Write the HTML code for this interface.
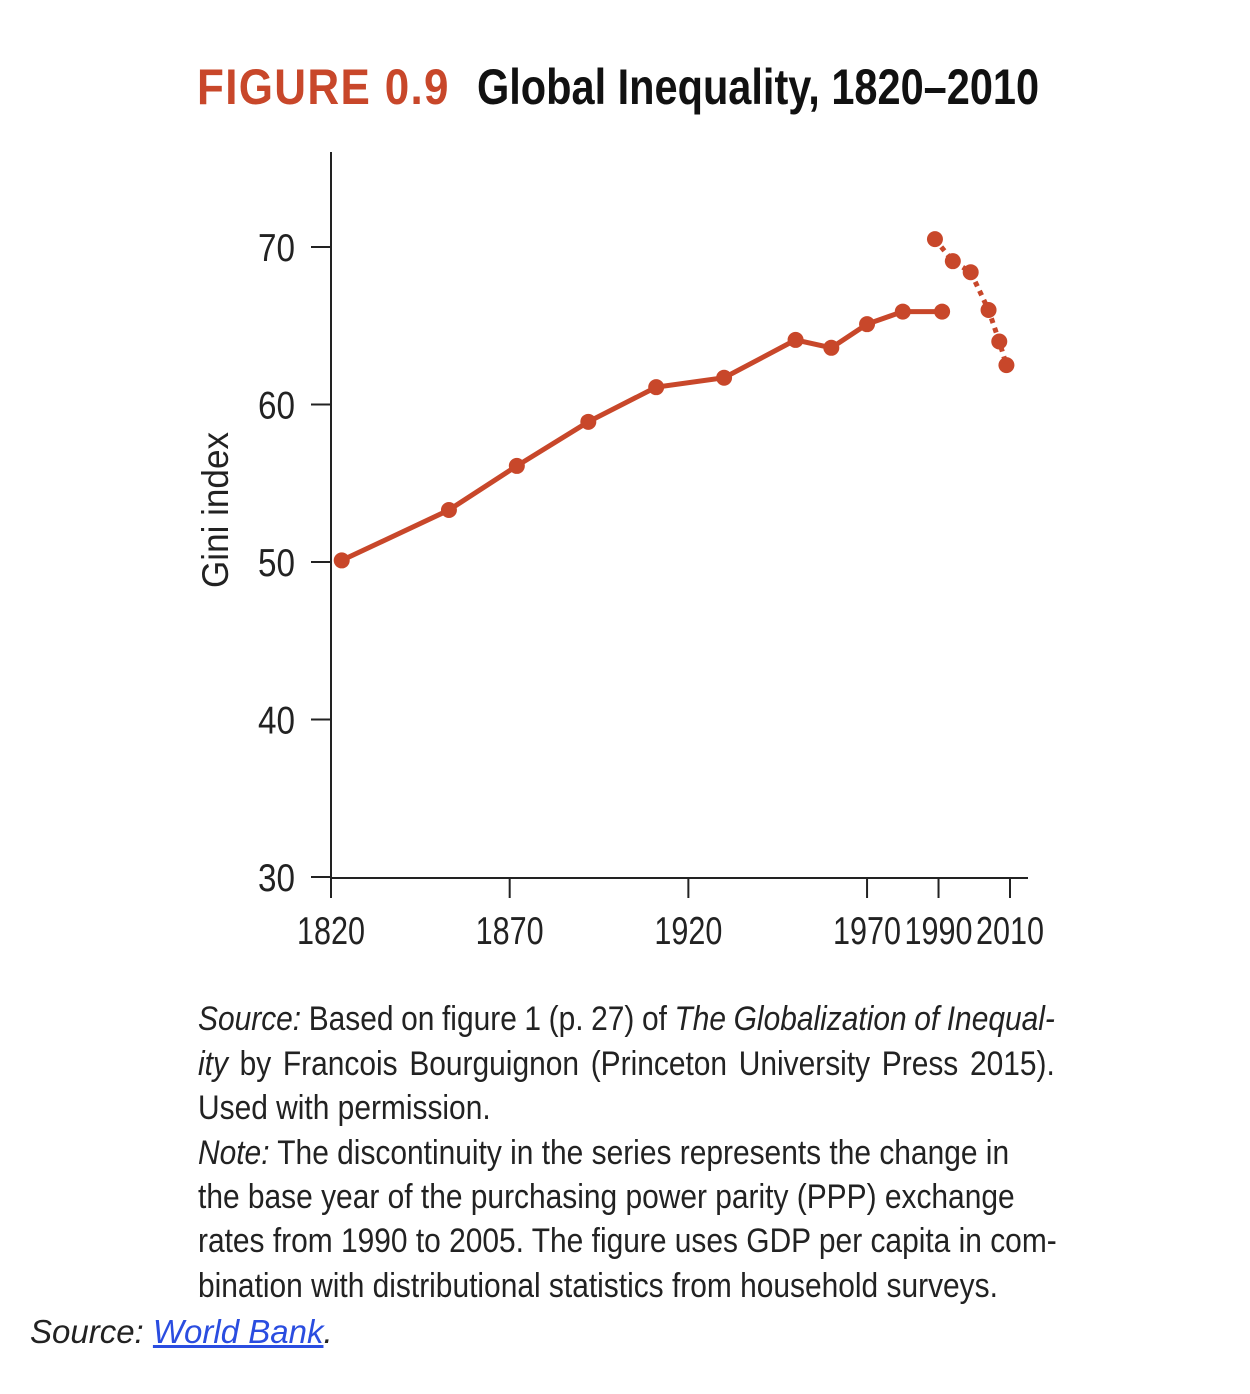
<!DOCTYPE html>
<html><head><meta charset="utf-8"><style>
body{margin:0;background:#fff;width:1250px;height:1394px;position:relative;overflow:hidden;font-family:"Liberation Sans",sans-serif}
.t{position:absolute;white-space:nowrap;transform-origin:0 0}
.ln{position:absolute;left:198px;font-size:34px;color:#222;white-space:nowrap;transform:scaleX(0.88);transform-origin:0 0}
</style></head><body>
<div class="t" style="left:197px;top:58px;font-size:50px;font-weight:bold;color:#c8472a;letter-spacing:1.5px;transform:scaleX(0.88)">FIGURE 0.9</div>
<div class="t" style="left:477px;top:58px;font-size:50px;font-weight:bold;color:#111;transform:scaleX(0.83)">Global Inequality, 1820–2010</div>
<svg id="chart" style="position:absolute;left:0;top:0" width="1250" height="1000"></svg>
<div class="ln jf" style="top:1000px"><i>Source:</i> Based on figure 1 (p. 27) of <i>The Globalization of Inequal-</i></div>
<div class="ln jf" style="top:1045px"><i>ity</i> by Francois Bourguignon (Princeton University Press 2015).</div>
<div class="ln" style="top:1089px">Used with permission.</div>
<div class="ln" style="top:1134px"><i>Note:</i> The discontinuity in the series represents the change in</div>
<div class="ln" style="top:1178px">the base year of the purchasing power parity (PPP) exchange</div>
<div class="ln" style="top:1222px">rates from 1990 to 2005. The figure uses GDP per capita in com-</div>
<div class="ln" style="top:1267px">bination with distributional statistics from household surveys.</div>
<div class="t" style="left:30px;top:1313px;font-size:33px;font-style:italic;color:#222">Source: <a style="color:#2a4de0;text-decoration:underline">World Bank</a>.</div>
<script>
document.querySelectorAll('.jf').forEach(d=>{
 const target=857/0.88;
 const w=d.scrollWidth;
 const gaps=(d.textContent.match(/ /g)||[]).length;
 d.style.wordSpacing=((target-w)/gaps)+'px';
});
</script>
<script>
const yearsA=[1823,1853,1872,1892,1911,1930,1950,1960,1970,1980,1991];
const giniA=[50.1,53.3,56.1,58.9,61.1,61.7,64.1,63.6,65.1,65.9,65.9];
const yearsB=[1989,1994,1999,2004,2007,2009];
const giniB=[70.5,69.1,68.4,66.0,64.0,62.5];
const xTicks=[1820,1870,1920,1970,1990,2010];
const yTicks=[30,40,50,60,70];
const NS="http://www.w3.org/2000/svg";
const svg=document.getElementById('chart');
const x=v=>331+(v-1820)*(1010-331)/190;
const y=v=>877-(v-30)*(877-247)/40;
const red="#c8472a";
function el(t,a){const e=document.createElementNS(NS,t);for(const k in a)e.setAttribute(k,a[k]);svg.appendChild(e);return e;}
let e=el('line',{x1:331,y1:152,x2:331,y2:878,stroke:'#222','stroke-width':2});

e=el('line',{x1:330,y1:878,x2:1028,y2:878,stroke:'#222','stroke-width':2});

yTicks.forEach(v=>{
 let l=el('line',{x1:311,x2:331,y1:y(v),y2:y(v),stroke:'#222','stroke-width':2});
 
 let t=el('text',{x:295,y:y(v)+14,'text-anchor':'end','font-size':39,fill:'#222','font-family':'Liberation Sans, sans-serif',textLength:37,lengthAdjust:'spacingAndGlyphs'});
 t.textContent=v;
});
xTicks.forEach(v=>{
 let l=el('line',{x1:x(v),x2:x(v),y1:878,y2:898,stroke:'#222','stroke-width':2});
 
 let t=el('text',{x:x(v),y:944,'text-anchor':'middle','font-size':39,fill:'#222','font-family':'Liberation Sans, sans-serif',textLength:68,lengthAdjust:'spacingAndGlyphs'});
 t.textContent=v;
});
let yl=el('text',{x:0,y:0,transform:'translate(228,510) rotate(-90)','text-anchor':'middle','font-size':37,fill:'#222','font-family':'Liberation Sans, sans-serif',textLength:156,lengthAdjust:'spacingAndGlyphs'});
yl.textContent='Gini index';
let pa=el('polyline',{points:yearsA.map((v,i)=>x(v)+','+y(giniA[i])).join(' '),fill:'none',stroke:red,'stroke-width':5});

let pb=el('polyline',{points:yearsB.map((v,i)=>x(v)+','+y(giniB[i])).join(' '),fill:'none',stroke:red,'stroke-width':5,'stroke-dasharray':'5 5'});

yearsA.forEach((v,i)=>{let c=el('circle',{cx:x(v),cy:y(giniA[i]),r:8,fill:red});
 });
yearsB.forEach((v,i)=>{let c=el('circle',{cx:x(v),cy:y(giniB[i]),r:8,fill:red});
 });
</script>
</body></html>
